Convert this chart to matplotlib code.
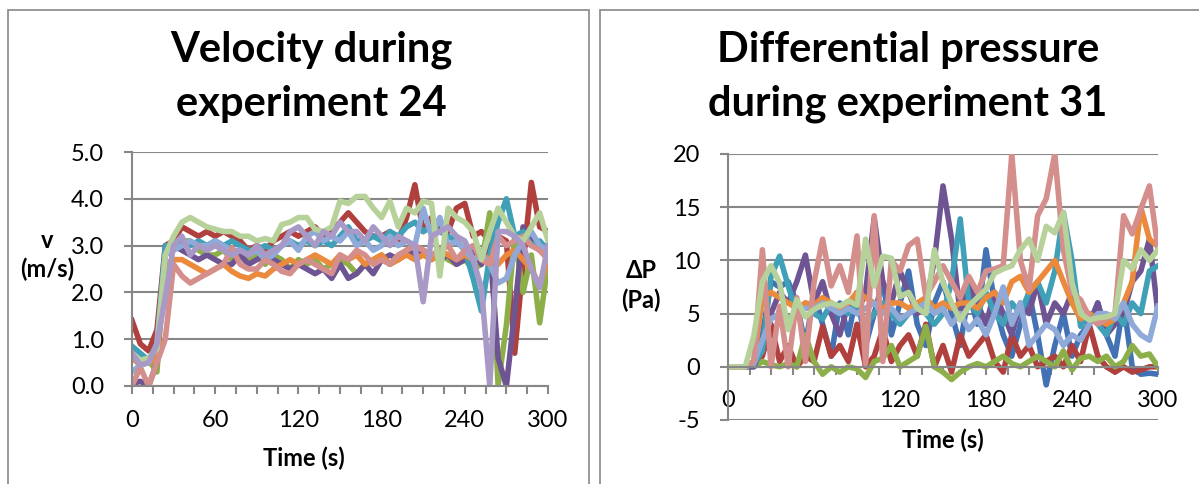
import numpy as np
import matplotlib
matplotlib.use("Agg")
import matplotlib.pyplot as plt
from matplotlib.patches import Rectangle

plt.rcParams['font.family'] = ['Lato', 'DejaVu Sans']
plt.rcParams['axes.unicode_minus'] = False

# czas co 6 s
t = np.arange(0, 301, 6)

# ---- predkosc, eksperyment 24 (m/s) ----
v_red = [1.4, 0.9, 0.75, 1.2, 3.0, 3.1, 3.4, 3.3, 3.2, 3.3, 3.2, 3.3, 3.2, 3.1, 2.9, 3.0, 2.9, 3.1, 3.2, 3.3,
         3.2, 3.3, 3.4, 3.2, 3.3, 3.5, 3.7, 3.5, 3.3, 3.2, 3.2, 3.3, 3.1, 3.6, 4.3, 3.3, 3.6, 3.4, 3.3, 3.8,
         3.9, 3.2, 3.3, 3.1, 3.2, 3.1, 0.7, 2.6, 4.35, 3.4, 3.3]
v_green = [0.6, 0.5, 0.55, 0.3, 2.8, 3.0, 3.1, 3.1, 2.9, 2.8, 2.8, 2.9, 2.7, 2.8, 2.7, 2.8, 2.6, 2.8, 2.7, 2.5,
           2.7, 2.6, 2.7, 2.5, 2.6, 2.7, 2.6, 2.4, 2.6, 2.7, 2.8, 2.6, 2.7, 2.9, 2.8, 2.9, 2.7, 2.8, 2.7, 2.6,
           2.7, 2.5, 2.6, 3.7, 0.0, 1.3, 3.2, 2.0, 2.8, 1.35, 2.6]
v_purple = [0.05, 0.1, 0.0, 0.5, 2.9, 3.0, 2.9, 2.8, 2.7, 2.8, 2.7, 2.6, 2.6, 2.8, 2.6, 2.7, 2.8, 2.7, 2.6, 2.5,
            2.6, 2.5, 2.4, 2.5, 2.3, 2.6, 2.3, 2.4, 2.6, 2.4, 2.7, 2.8, 2.7, 2.9, 2.8, 2.9, 2.8, 2.7, 2.8, 2.6,
            2.7, 2.9, 2.6, 3.0, 0.6, 0.0, 1.6, 3.4, 3.1, 2.9, 2.8]
v_aqua = [0.85, 0.7, 0.55, 0.9, 3.0, 3.0, 3.1, 3.0, 3.1, 3.0, 3.1, 3.0, 3.1, 3.0, 2.9, 2.9, 3.0, 2.9, 3.0, 3.1,
          3.0, 3.1, 3.0, 3.1, 3.0, 3.2, 3.4, 3.1, 3.1, 3.2, 3.1, 3.3, 3.2, 3.4, 3.5, 3.3, 3.4, 3.3, 3.2, 3.1,
          2.9, 2.3, 1.6, 2.8, 3.5, 4.0, 3.2, 3.3, 3.0, 3.1, 2.9]
v_orange = [0.6, 0.45, 0.5, 0.6, 2.6, 2.7, 2.7, 2.6, 2.5, 2.4, 2.5, 2.6, 2.45, 2.35, 2.3, 2.4, 2.35, 2.5, 2.6, 2.7,
            2.6, 2.7, 2.8, 2.7, 2.6, 2.8, 2.7, 2.8, 2.6, 2.7, 2.8, 2.6, 2.7, 2.8, 2.7, 2.8, 2.7, 2.9, 2.8, 2.7,
            2.8, 2.7, 2.8, 2.7, 2.6, 2.8, 2.9, 2.7, 2.5, 2.15, 2.7]
v_lblue = [0.3, 0.45, 0.5, 0.9, 2.8, 2.9, 3.0, 3.1, 3.0, 3.0, 3.1, 3.0, 2.9, 2.9, 2.8, 2.9, 2.7, 2.8, 3.0, 3.1,
           2.9, 3.2, 3.3, 3.1, 3.2, 3.1, 3.3, 3.0, 3.1, 2.9, 3.0, 3.2, 3.0, 3.1, 3.0, 3.8, 3.2, 3.6, 3.0, 3.1,
           2.9, 2.7, 2.8, 2.6, 2.2, 2.3, 2.8, 3.1, 3.3, 3.0, 2.9]
v_pink = [0.0, 0.4, 0.0, 0.5, 1.0, 2.6, 2.35, 2.2, 2.3, 2.4, 2.5, 2.6, 2.95, 2.6, 2.5, 2.5, 2.7, 2.6, 2.45, 2.4,
          2.6, 2.7, 2.6, 2.5, 2.4, 2.8, 2.7, 2.9, 2.8, 2.6, 2.7, 2.6, 2.8, 2.9, 3.0, 2.9, 2.8, 2.9, 3.0, 2.7,
          2.9, 3.0, 2.7, 2.6, 3.2, 3.0, 3.1, 3.2, 3.0, 2.9, 2.7]
v_lgreen = [0.7, 0.55, 0.6, 0.8, 2.8, 3.2, 3.5, 3.6, 3.5, 3.4, 3.35, 3.3, 3.3, 3.2, 3.2, 3.1, 3.15, 3.1, 3.45, 3.5,
            3.6, 3.6, 3.35, 3.3, 3.4, 3.95, 3.9, 4.05, 4.05, 3.8, 3.6, 3.95, 3.4, 3.8, 3.7, 3.95, 3.9, 2.35, 3.8, 3.6,
            3.5, 3.3, 2.7, 3.3, 3.8, 3.5, 3.2, 3.1, 3.4, 3.7, 3.1]
v_lav = [0.7, 0.45, 0.5, 0.9, 1.9, 3.0, 3.2, 2.8, 3.0, 2.9, 3.0, 2.9, 2.8, 2.9, 2.8, 3.0, 2.8, 2.9, 3.0, 3.3,
         3.4, 3.2, 3.0, 3.3, 3.2, 3.5, 3.3, 3.3, 3.1, 3.4, 3.2, 3.0, 3.2, 3.1, 3.0, 1.8, 3.2, 3.3, 3.4, 3.2,
         3.1, 2.7, 2.1, 0.0, 3.3, 3.3, 3.2, 3.0, 2.5, 2.1, 3.0]

# ---- cisnienie roznicowe, eksperyment 31 (Pa) ----
p_blue = [0, 0, 0, 0.5, 3, 8, 7.5, 8, 6, 2, 7, 4, 1, 6, 3, 7, 2, 5, 8, 3,
          6, 9, 4, 2, 6, 8, 5, 2, 7, 4, 11, 6, 3, 1, 4, 7, 3, -1.7, 2, 5,
          1, 3, 4, 6, 3, 1, 6, 0, -0.7, -0.6, -0.7]
p_red = [0, 0, 0, 0.2, 1, 4, 0.5, 2, 0, 1, 0.5, 3.8, 1, 2, 0.5, 4, 0, 1, 3.5, 0.5,
         2, 3, 1, 4, 0, 2, -0.5, 3, 1, 2, 3, 0.5, -0.5, 3, 1, 2, 0, 0.5, 1, 0,
         2, 0.5, 4, 1, 0, -0.5, 0, -0.5, -0.3, 0, 0]
p_green = [0, 0, 0, 0, 0.5, 0.2, 0, 0.3, 0, 3, 0.5, -0.7, 0, -0.5, 0, -0.2, -1, 0.5, 0.8, 2,
           0, 0.5, 1, 3.8, 0, -0.5, -1.2, -0.5, 0, 0.3, 0, 0.5, 1, 0.3, 0, 0.5, 1, 0.5, 0, 1.5,
           -0.3, 0.8, 1, 0.5, 1, 0, 0.5, 2, 1, 1.2, 0]
p_purple = [0, 0, 0, 0, 2, 5, 7, 6, 8, 10.5, 6, 8, 5, 3, 6, 5, 7, 14, 8, 6,
            9, 7, 5, 6, 10, 17, 12, 5, 8, 6, 4, 7, 5, 3, 6, 5, 8, 4, 6, 5,
            7, 5, 4, 6, 3, 4, 5, 8, 9, 12, 5]
p_aqua = [0, 0, 0, 0.3, 1.5, 8.5, 10.4, 7.6, 5, 6, 5, 4.5, 6, 5.5, 5, 6, 4, 5, 6, 5,
          4, 5, 6, 5, 4, 5, 8, 13.9, 6, 5, 7, 5, 4, 6, 5, 7, 8, 6, 9, 14.5,
          10, 3.8, 5, 4, 3, 5, 4, 6, 5, 9, 9.5]
p_orange = [0, 0, 0, 0.5, 6.6, 7, 6.5, 6, 5.5, 6, 5.8, 6.5, 6, 5.5, 6, 7, 6.5, 6, 5.5, 6,
            6, 5.5, 6, 6.5, 5.5, 6, 5.5, 6, 6, 5.5, 6.5, 7, 6, 8, 8.5, 7, 8, 9, 10, 8,
            6, 4.5, 5, 4.5, 4, 4.5, 6, 8, 15, 12, 11.3]
p_lblue = [0, 0, 0, 0.3, 2.5, 4.5, 5, 4.5, 5, 5.5, 5.5, 6, 5.5, 5, 5.5, 5, 5.5, 6, 5, 5.5,
           4.5, 5, 5.5, 6, 5, 5.5, 4, 5, 3.5, 4.5, 3, 5, 7.5, 4, 6, 2, 3, 4, 3.5, 2,
           3, 2.5, 4, 5, 5, 4.5, 6, 4, 3, 2.5, 5.7]
p_pink = [0, 0, 0, 0.5, 11, 0, 5.7, 0, 6.5, 0.5, 7.9, 12, 7.6, 9.5, 7, 12.3, 0.3, 14.2, 0.5, 10,
          9, 11.4, 12, 6.6, 8, 9.5, 8, 6.5, 8.5, 7, 9, 9.2, 9.5, 20, 10, 7.3, 14.2, 15.8, 20, 11,
          7, 6.3, 4.7, 4, 4.5, 5, 14.2, 12.5, 14.8, 17, 11]
p_lgreen = [0, 0, 0, 2.9, 8, 9.5, 7.9, 3.5, 6.3, 4.7, 5.4, 5.8, 6, 5.7, 6.2, 5.8, 12, 7.6, 10.4, 10.2,
            6.6, 7, 5.5, 5, 11, 7.9, 6, 4.4, 5.7, 6.5, 7.3, 8.8, 9.2, 9.5, 11, 12, 10, 13.2, 12.6, 14.5,
            7.9, 5, 4.4, 4.6, 4.7, 5, 10, 9.2, 11, 10, 11]

c_blue = '#4272B4'
c_red = '#B0403D'
c_green = '#8DAF4A'
c_purple = '#6F5494'
c_aqua = '#3FA0B8'
c_orange = '#EB8A3C'
c_lblue = '#8FAAD8'
c_pink = '#D48F8D'
c_lgreen = '#B7D19A'
c_lav = '#A899C6'

left_series = [(v_red, c_red), (v_green, c_green), (v_purple, c_purple), (v_aqua, c_aqua),
               (v_orange, c_orange), (v_lblue, c_lblue), (v_pink, c_pink), (v_lgreen, c_lgreen),
               (v_lav, c_lav)]
right_series = [(p_blue, c_blue), (p_red, c_red), (p_green, c_green), (p_purple, c_purple),
                (p_aqua, c_aqua), (p_orange, c_orange), (p_lblue, c_lblue), (p_pink, c_pink),
                (p_lgreen, c_lgreen)]

gray = '#878787'
W, H = 1199, 484
fig = plt.figure(figsize=(W / 100, H / 100), dpi=100)

# ramki paneli
fig.patches.append(Rectangle((8 / W, -0.1), (589 - 8) / W, 1.1 - 10 / H, transform=fig.transFigure,
                             fill=False, edgecolor=gray, lw=1.2))
fig.patches.append(Rectangle((600 / W, -0.1), 0.6, 1.1 - 10 / H, transform=fig.transFigure,
                             fill=False, edgecolor=gray, lw=1.2))


def style(ax):
    for s in ['top', 'right']:
        ax.spines[s].set_visible(False)
    for s in ['left', 'bottom']:
        ax.spines[s].set_color(gray)
        ax.spines[s].set_linewidth(1.5)
    ax.yaxis.grid(True, color=gray, lw=1.5)
    ax.set_axisbelow(True)
    ax.set_xlim(0, 300)
    ax.set_xticks(np.arange(0, 301, 60))
    ax.set_xticks(np.arange(0, 301, 15), minor=True)
    ax.tick_params(axis='both', which='both', length=6, width=1.5, color=gray,
                   labelsize=17, direction='out')
    ax.tick_params(axis='x', which='major', pad=11)
    ax.tick_params(axis='y', pad=14)


lw = 4.0

# ---- lewy panel ----
ax1 = fig.add_axes([132 / W, 1 - 386 / H, (548 - 132) / W, (386 - 152) / H])
for vals, col in left_series:
    ax1.plot(t, vals, color=col, lw=lw, solid_joinstyle='round')
style(ax1)
ax1.set_ylim(0, 5)
ax1.set_yticks(np.arange(0, 5.01, 1))
ax1.set_yticklabels([f'{v:.1f}' for v in np.arange(0, 5.01, 1)])

fig.text(311 / W, 1 - 50 / H, 'Velocity during', ha='center', va='center', fontsize=30, fontweight='bold')
fig.text(311 / W, 1 - 104 / H, 'experiment 24', ha='center', va='center', fontsize=30, fontweight='bold')
fig.text(47 / W, 1 - 240 / H, 'v', ha='center', va='center', fontsize=17, fontweight='bold')
fig.text(47 / W, 1 - 269 / H, '(m/s)', ha='center', va='center', fontsize=17, fontweight='bold')
fig.text(304 / W, 1 - 458 / H, 'Time (s)', ha='center', va='center', fontsize=17, fontweight='bold')

# ---- prawy panel ----
ax2 = fig.add_axes([728 / W, 1 - 420 / H, (1158 - 728) / W, (420 - 154) / H])
for vals, col in right_series:
    ax2.plot(t, vals, color=col, lw=lw, solid_joinstyle='round')
style(ax2)
ax2.set_ylim(-5, 20)
ax2.set_yticks(np.arange(-5, 21, 5))
ax2.spines['bottom'].set_position(('data', 0))

fig.text(908 / W, 1 - 50 / H, 'Differential pressure', ha='center', va='center', fontsize=30, fontweight='bold')
fig.text(908 / W, 1 - 104 / H, 'during experiment 31', ha='center', va='center', fontsize=30, fontweight='bold')
fig.text(641 / W, 1 - 270 / H, 'ΔP', ha='center', va='center', fontsize=17, fontweight='bold')
fig.text(641 / W, 1 - 300 / H, '(Pa)', ha='center', va='center', fontsize=17, fontweight='bold')
fig.text(943 / W, 1 - 440 / H, 'Time (s)', ha='center', va='center', fontsize=17, fontweight='bold')

fig.savefig('out.png', dpi=100)
